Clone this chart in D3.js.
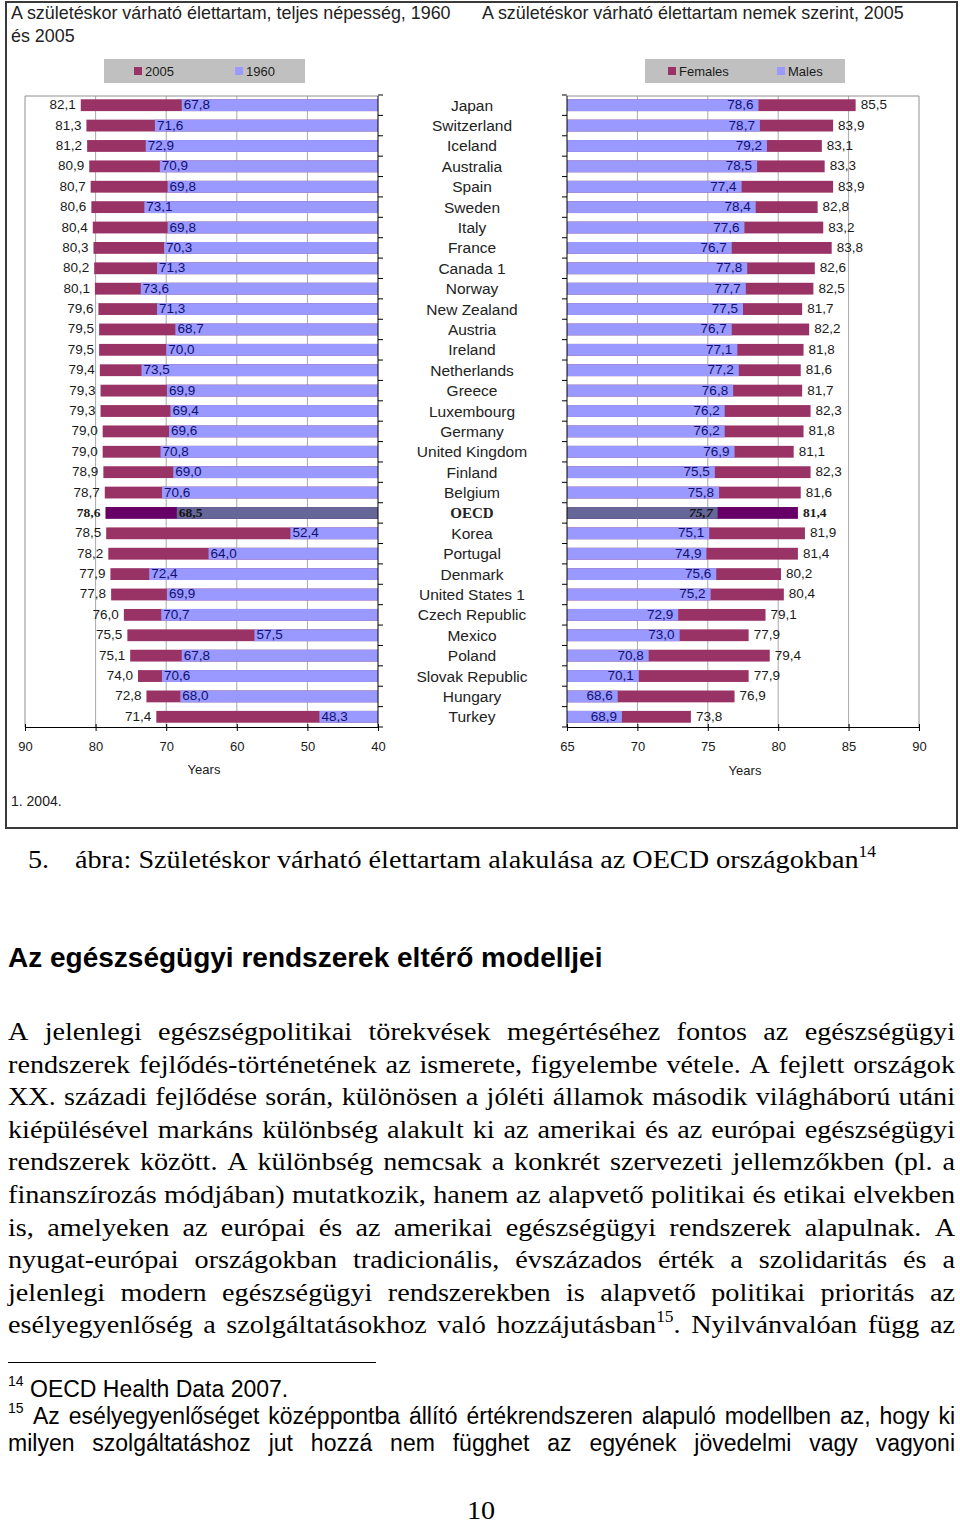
<!DOCTYPE html>
<html>
<head>
<meta charset="utf-8">
<script src="https://cdn.jsdelivr.net/npm/d3@7"></script>
<style>
  body { margin: 0; background: #fff; }
  svg { display: block; }
  .sans { font-family: "Liberation Sans", Arial, sans-serif; }
  .serif { font-family: "Liberation Serif", "Times New Roman", serif; }
</style>
</head>
<body>
<svg id="page" width="960" height="1524"></svg>
<script>
// ---- data ----
const countries = ['Japan', 'Switzerland', 'Iceland', 'Australia', 'Spain', 'Sweden', 'Italy', 'France',
  'Canada 1', 'Norway', 'New Zealand', 'Austria', 'Ireland', 'Netherlands', 'Greece', 'Luxembourg',
  'Germany', 'United Kingdom', 'Finland', 'Belgium', 'OECD', 'Korea', 'Portugal', 'Denmark',
  'United States 1', 'Czech Republic', 'Mexico', 'Poland', 'Slovak Republic', 'Hungary', 'Turkey']

const total2005 = [82.1, 81.3, 81.2, 80.9, 80.7, 80.6, 80.4, 80.3, 80.2, 80.1, 79.6, 79.5, 79.5, 79.4, 79.3, 79.3,
  79.0, 79.0, 78.9, 78.7, 78.6, 78.5, 78.2, 77.9, 77.8, 76.0, 75.5, 75.1, 74.0, 72.8, 71.4]
const total1960 = [67.8, 71.6, 72.9, 70.9, 69.8, 73.1, 69.8, 70.3, 71.3, 73.6, 71.3, 68.7, 70.0, 73.5, 69.9, 69.4,
  69.6, 70.8, 69.0, 70.6, 68.5, 52.4, 64.0, 72.4, 69.9, 70.7, 57.5, 67.8, 70.6, 68.0, 48.3]

const males2005 = [78.6, 78.7, 79.2, 78.5, 77.4, 78.4, 77.6, 76.7, 77.8, 77.7, 77.5, 76.7, 77.1, 77.2, 76.8, 76.2,
  76.2, 76.9, 75.5, 75.8, 75.7, 75.1, 74.9, 75.6, 75.2, 72.9, 73.0, 70.8, 70.1, 68.6, 68.9]
const females2005 = [85.5, 83.9, 83.1, 83.3, 83.9, 82.8, 83.2, 83.8, 82.6, 82.5, 81.7, 82.2, 81.8, 81.6, 81.7, 82.3,
  81.8, 81.1, 82.3, 81.6, 81.4, 81.9, 81.4, 80.2, 80.4, 79.1, 77.9, 79.4, 77.9, 76.9, 73.8]

const leftTicks = [90, 80, 70, 60, 50, 40]
const rightTicks = [65, 70, 75, 80, 85, 90]
const highlight = 'OECD'

const leftTitle = ['A születéskor várható élettartam, teljes népesség, 1960', 'és 2005']
const rightTitle = 'A születéskor várható élettartam nemek szerint, 2005'
const leftLegend = ['2005', '1960']
const rightLegend = ['Females', 'Males']

const caption = 'ábra: Születéskor várható élettartam alakulása az OECD országokban{14}'
const heading = 'Az egészségügyi rendszerek eltérő modelljei'
const paragraph = [
  'A jelenlegi egészségpolitikai törekvések megértéséhez fontos az egészségügyi',
  'rendszerek fejlődés-történetének az ismerete, figyelembe vétele. A fejlett országok',
  'XX. századi fejlődése során, különösen a jóléti államok második világháború utáni',
  'kiépülésével markáns különbség alakult ki az amerikai és az európai egészségügyi',
  'rendszerek között. A különbség nemcsak a konkrét szervezeti jellemzőkben (pl. a',
  'finanszírozás módjában) mutatkozik, hanem az alapvető politikai és etikai elvekben',
  'is, amelyeken az európai és az amerikai egészségügyi rendszerek alapulnak. A',
  'nyugat-európai országokban tradicionális, évszázados érték a szolidaritás és a',
  'jelenlegi modern egészségügyi rendszerekben is alapvető politikai prioritás az',
  'esélyegyenlőség a szolgáltatásokhoz való hozzájutásban{15}. Nyilvánvalóan függ az'
]
const footnote15 = [
  'Az esélyegyenlőséget középpontba állító értékrendszeren alapuló modellben az, hogy ki',
  'milyen szolgáltatáshoz jut hozzá nem függhet az egyének jövedelmi vagy vagyoni'
]

// ---- colours ----
const maroon = '#993366', blue = '#9999ff'
const maroonDark = '#660066', blueDark = '#666699'
const navy = '#10106e', ink = '#1a1a1a', grid = '#a8a8a8'

const fmt = v => d3.format('.1f')(v).replace('.', ',')

const svg = d3.select('#page')

// frame round the figure
svg.append('rect')
  .attr('x', 6).attr('y', 2).attr('width', 951).attr('height', 826)
  .attr('fill', '#fff').attr('stroke', '#3a3a3a').attr('stroke-width', 2)

// titles
svg.append('text').attr('class', 'sans').attr('font-size', 17.9).attr('fill', '#222')
  .selectAll('tspan').data(leftTitle).enter().append('tspan')
  .attr('x', 11).attr('y', (d, i) => 19 + i * 23).text(d => d)
svg.append('text').attr('class', 'sans').attr('font-size', 17.9).attr('fill', '#222')
  .attr('x', 482).attr('y', 19).text(rightTitle)

// shared row scale
const y = d3.scaleBand()
  .domain(countries)
  .range([95, 727])
  .paddingInner(0.42)
  .paddingOuter(0.21)
const bh = y.bandwidth()
const step = y.step()
const boundaries = countries.map(c => y(c) - step * 0.21).concat([727])
const isHi = c => c === highlight

const xL = d3.scaleLinear().domain([90, 40]).range([25, 378])
const xR = d3.scaleLinear().domain([65, 90]).range([567, 919])

const rowsL = countries.map((c, i) => ({ c, a: total2005[i], b: total1960[i] }))
const rowsR = countries.map((c, i) => ({ c, m: males2005[i], f: females2005[i] }))

// ---- legends ----
const legend = (x0, w, items, itemX) => {
  svg.append('rect').attr('x', x0).attr('y', 59).attr('width', w).attr('height', 24).attr('fill', '#c0c0c0')
  items.forEach((t, i) => {
    svg.append('rect').attr('x', itemX[i]).attr('y', 67).attr('width', 8).attr('height', 8)
      .attr('fill', i === 0 ? maroon : blue)
    svg.append('text').attr('class', 'sans').attr('font-size', 13).attr('fill', ink)
      .attr('x', itemX[i] + 11).attr('y', 75.5).text(t)
  })
}
legend(104, 201, leftLegend, [134, 235])
legend(645, 200, rightLegend, [668, 777])

// ---- left chart ----
const gL = svg.append('g')

gL.selectAll('.grid').data(leftTicks.slice(1, -1)).enter().append('line')
  .attr('x1', d => xL(d)).attr('x2', d => xL(d)).attr('y1', 96).attr('y2', 727)
  .attr('stroke', grid)
gL.append('path').attr('d', `M${xL(90)},727V96H${xL(40)}`).attr('fill', 'none').attr('stroke', '#909090')

gL.selectAll('.bar2005').data(rowsL).enter().append('rect')
  .attr('x', d => xL(d.a)).attr('y', d => y(d.c))
  .attr('width', d => xL(40) - xL(d.a)).attr('height', bh)
  .attr('fill', d => isHi(d.c) ? maroonDark : maroon)
gL.selectAll('.bar1960').data(rowsL).enter().append('rect')
  .attr('x', d => xL(d.b)).attr('y', d => y(d.c))
  .attr('width', d => xL(40) - xL(d.b)).attr('height', bh)
  .attr('fill', d => isHi(d.c) ? blueDark : blue)

gL.selectAll('.lab2005').data(rowsL).enter().append('text')
  .attr('class', d => isHi(d.c) ? 'serif' : 'sans')
  .attr('font-weight', d => isHi(d.c) ? 'bold' : null)
  .attr('font-size', 13.5).attr('fill', ink).attr('text-anchor', 'end')
  .attr('x', d => xL(d.a) - 5).attr('y', d => y(d.c) + bh / 2 + 4)
  .text(d => fmt(d.a))
gL.selectAll('.lab1960').data(rowsL).enter().append('text')
  .attr('class', d => isHi(d.c) ? 'serif' : 'sans')
  .attr('font-weight', d => isHi(d.c) ? 'bold' : null)
  .attr('font-size', 13.5).attr('fill', d => isHi(d.c) ? '#111' : navy)
  .attr('x', d => xL(d.b) + 2).attr('y', d => y(d.c) + bh / 2 + 4)
  .text(d => fmt(d.b))

// category axis on the right side of the left chart
gL.append('line').attr('x1', 378).attr('x2', 378).attr('y1', 96).attr('y2', 727).attr('stroke', '#000')
gL.selectAll('.ytick').data(boundaries).enter().append('line')
  .attr('x1', 378).attr('x2', 383).attr('y1', d => d).attr('y2', d => d).attr('stroke', '#000')

const axL = gL.append('g').attr('transform', 'translate(0,727)')
  .call(d3.axisBottom(xL).tickValues(leftTicks).tickSizeOuter(0).tickSizeInner(4).tickPadding(11))
axL.selectAll('.tick line').attr('y1', -3)
axL.selectAll('text').attr('class', 'sans').attr('font-size', 13).attr('fill', ink)
axL.select('.domain').attr('stroke', '#000')
gL.append('text').attr('class', 'sans').attr('font-size', 13).attr('fill', ink)
  .attr('text-anchor', 'middle').attr('x', 204).attr('y', 774).text('Years')

// ---- country names ----
svg.append('g').selectAll('text').data(countries).enter().append('text')
  .attr('class', d => isHi(d) ? 'serif' : 'sans')
  .attr('font-weight', d => isHi(d) ? 'bold' : null)
  .attr('font-size', d => isHi(d) ? 15 : 15.5).attr('fill', '#222')
  .attr('text-anchor', 'middle').attr('x', 472).attr('y', d => y(d) + bh / 2 + 5.5)
  .text(d => d)

// ---- right chart ----
const gR = svg.append('g')

gR.selectAll('.grid').data(rightTicks.slice(1, -1)).enter().append('line')
  .attr('x1', d => xR(d)).attr('x2', d => xR(d)).attr('y1', 96).attr('y2', 727)
  .attr('stroke', grid)
gR.append('path').attr('d', `M${xR(65)},96H${xR(90)}V727`).attr('fill', 'none').attr('stroke', '#909090')

gR.selectAll('.barF').data(rowsR).enter().append('rect')
  .attr('x', xR(65)).attr('y', d => y(d.c))
  .attr('width', d => xR(d.f) - xR(65)).attr('height', bh)
  .attr('fill', d => isHi(d.c) ? maroonDark : maroon)
gR.selectAll('.barM').data(rowsR).enter().append('rect')
  .attr('x', xR(65)).attr('y', d => y(d.c))
  .attr('width', d => xR(d.m) - xR(65)).attr('height', bh)
  .attr('fill', d => isHi(d.c) ? blueDark : blue)

gR.selectAll('.labM').data(rowsR).enter().append('text')
  .attr('class', d => isHi(d.c) ? 'serif' : 'sans')
  .attr('font-weight', d => isHi(d.c) ? 'bold' : null)
  .attr('font-style', d => isHi(d.c) ? 'italic' : null)
  .attr('font-size', 13.5).attr('fill', d => isHi(d.c) ? '#111' : navy).attr('text-anchor', 'end')
  .attr('x', d => xR(d.m) - 5).attr('y', d => y(d.c) + bh / 2 + 4)
  .text(d => fmt(d.m))
gR.selectAll('.labF').data(rowsR).enter().append('text')
  .attr('class', d => isHi(d.c) ? 'serif' : 'sans')
  .attr('font-weight', d => isHi(d.c) ? 'bold' : null)
  .attr('font-size', 13.5).attr('fill', ink)
  .attr('x', d => xR(d.f) + 5).attr('y', d => y(d.c) + bh / 2 + 4)
  .text(d => fmt(d.f))

gR.append('line').attr('x1', 567).attr('x2', 567).attr('y1', 96).attr('y2', 727).attr('stroke', '#000')
gR.selectAll('.ytick').data(boundaries).enter().append('line')
  .attr('x1', 562).attr('x2', 567).attr('y1', d => d).attr('y2', d => d).attr('stroke', '#000')

const axR = gR.append('g').attr('transform', 'translate(0,727)')
  .call(d3.axisBottom(xR).tickValues(rightTicks).tickSizeOuter(0).tickSizeInner(4).tickPadding(11))
axR.selectAll('.tick line').attr('y1', -3)
axR.selectAll('text').attr('class', 'sans').attr('font-size', 13).attr('fill', ink)
axR.select('.domain').attr('stroke', '#000')
gR.append('text').attr('class', 'sans').attr('font-size', 13).attr('fill', ink)
  .attr('text-anchor', 'middle').attr('x', 745).attr('y', 775).text('Years')

svg.append('text').attr('class', 'sans').attr('font-size', 14).attr('fill', ink)
  .attr('x', 11).attr('y', 806).text('1. 2004.')

// ---- page text below the figure ----
// text with {nn} superscripts
const rich = (t, str, size) => {
  const parts = str.split(/\{(\d+)\}/)
  const shift = size * 0.42
  parts.forEach((p, i) => {
    if (!p) return
    const sup = i % 2 === 1
    const prevSup = i > 0 && (i - 1) % 2 === 1 && parts[i - 1]
    t.append('tspan')
      .attr('font-size', sup ? size * 0.62 : size)
      .attr('dy', sup ? -shift : (prevSup ? shift : 0))
      .text(p)
  })
}

// the scanned page is a little wider than the fonts: stretch by sx
const stretched = (cls, size, str, x, yb, sx) => {
  const t = svg.append('text').attr('class', cls).attr('font-size', size).attr('fill', '#000')
    .attr('transform', `translate(${x},${yb}) scale(${sx},1)`)
  rich(t, str, size)
  return t
}

const justify = (cls, size, str, x0, x1, yb, sx) => {
  const words = str.split(' ')
  const nodes = words.map(w => stretched(cls, size, w, 0, yb, sx))
  const widths = nodes.map(n => n.node().getComputedTextLength() * sx)
  const gap = words.length > 1 ? (x1 - x0 - d3.sum(widths)) / (words.length - 1) : 0
  let x = x0
  nodes.forEach((n, i) => {
    n.attr('transform', `translate(${x},${yb}) scale(${sx},1)`)
    x += widths[i] + gap
  })
}

const serifSx = 1.085
stretched('serif', 26, '5.', 28, 868, serifSx)
stretched('serif', 26, caption, 75, 868, serifSx)

svg.append('text').attr('class', 'sans').attr('font-weight', 'bold').attr('font-size', 28)
  .attr('fill', '#000').attr('x', 8).attr('y', 967).text(heading)

paragraph.forEach((line, i) => justify('serif', 26, line, 8, 955, 1040 + i * 32.6, serifSx))

svg.append('line').attr('x1', 8).attr('x2', 376).attr('y1', 1362.5).attr('y2', 1362.5)
  .attr('stroke', '#000').attr('stroke-width', 1)

svg.append('text').attr('class', 'sans').attr('font-size', 14).attr('fill', '#000')
  .attr('x', 8).attr('y', 1386).text('14')
svg.append('text').attr('class', 'sans').attr('font-size', 23).attr('fill', '#000')
  .attr('x', 30).attr('y', 1397).text('OECD Health Data 2007.')
svg.append('text').attr('class', 'sans').attr('font-size', 14).attr('fill', '#000')
  .attr('x', 8).attr('y', 1413).text('15')
justify('sans', 23, footnote15[0], 33, 955, 1424, 1)
justify('sans', 23, footnote15[1], 8, 955, 1451, 1)

stretched('serif', 26, '10', 467, 1519, serifSx)
</script>
</body>
</html>
